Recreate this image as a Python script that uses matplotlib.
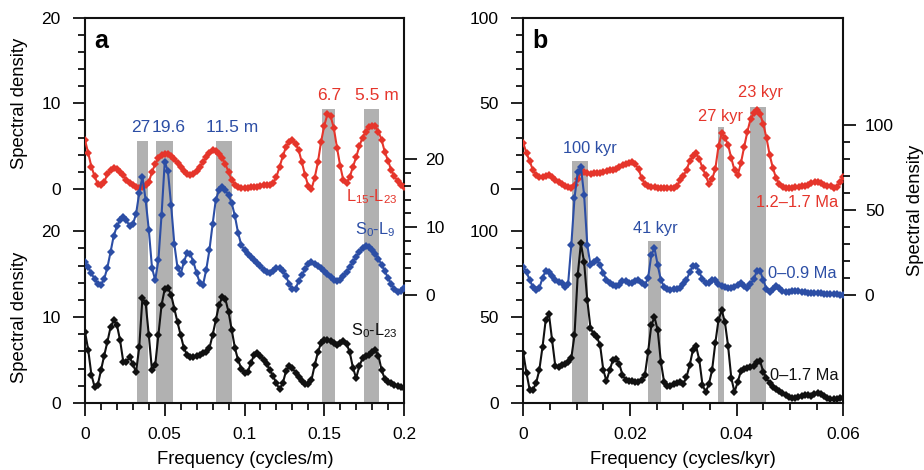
import numpy as np
import matplotlib
matplotlib.use("Agg")
import matplotlib.pyplot as plt
from matplotlib.ticker import FixedLocator, FixedFormatter, NullFormatter

plt.rcParams['font.family'] = ['Liberation Sans', 'DejaVu Sans']
plt.rcParams['mathtext.fontset'] = 'custom'
plt.rcParams['mathtext.rm'] = 'Liberation Sans'
plt.rcParams['mathtext.it'] = 'Liberation Sans:italic'
plt.rcParams['mathtext.default'] = 'regular'

# ---------------- data: loess spectra (panel a, depth domain) ----------------
freq_a = np.linspace(0.0, 0.2, 101)          # cycles/m

red_a = [5.7, 4.2, 2.6, 1.5, 0.6, 0.5, 0.8, 1.7, 2.2, 2.4,
         2.3, 2.0, 1.6, 1.0, 0.7, 0.5, 0.2, 0.1, 0.2, 0.5,
         0.8, 2.0, 2.9, 3.6, 4.0, 4.1, 4.1, 3.8, 3.5, 3.0,
         2.6, 2.1, 1.7, 1.6, 1.7, 2.1, 2.6, 3.1, 3.7, 4.2,
         4.5, 4.4, 4.1, 3.6, 2.9, 2.0, 1.0, 0.5, 0.2, 0.1,
         0.1, 0.1, 0.2, 0.2, 0.2, 0.35, 0.45, 0.5, 0.45, 0.7,
         1.4, 2.6, 3.8, 4.9, 5.5, 5.7, 5.3, 4.5, 3.1, 1.6,
         0.35, 0.0, 1.3, 3.1, 5.5, 7.4, 8.7, 8.5, 7.1, 4.8,
         2.7, 1.0, 0.7, 1.4, 2.6, 3.7, 5.0, 6.0, 6.7, 7.2,
         7.4, 7.3, 6.7, 5.7, 4.3, 3.3, 2.2, 1.5, 0.9, 0.5,
         0.2]

blue_a = [4.85, 4.1, 3.2, 2.35, 1.6, 1.5, 2.35, 4.0, 6.3, 8.7,
          10.1, 11.0, 11.5, 11.0, 10.1, 10.4, 11.9, 15.0, 17.4, 14.0,
          9.6, 4.0, 2.2, 5.1, 11.8, 19.6, 18.2, 13.2, 7.5, 4.0,
          3.1, 4.85, 6.2, 6.0, 4.85, 3.2, 1.8, 1.5, 3.7, 6.6,
          10.4, 14.0, 15.4, 15.9, 15.4, 14.7, 13.5, 11.6, 9.1, 7.35,
          6.6, 6.0, 5.6, 5.1, 4.7, 4.3, 3.7, 3.4, 3.2, 3.5,
          4.0, 4.0, 3.5, 2.8, 1.6, 0.9, 0.9, 2.1, 2.9, 3.8,
          4.6, 4.85, 4.6, 4.3, 4.0, 3.5, 3.1, 2.6, 2.2, 2.1,
          2.2, 2.8, 3.4, 4.1, 4.85, 5.6, 6.3, 6.9, 7.2, 7.1,
          6.6, 6.0, 5.3, 4.4, 3.5, 2.5, 1.6, 0.9, 0.45, 0.6,
          1.0]

black_a = [8.3, 6.2, 3.3, 1.9, 2.1, 3.8, 5.5, 7.1, 8.8, 9.65,
           9.1, 7.3, 4.8, 4.8, 5.35, 4.5, 3.6, 6.5, 12.2, 11.7,
           7.9, 3.8, 4.4, 7.9, 11.4, 13.3, 13.4, 12.6, 11.0, 9.4,
           7.9, 6.4, 5.6, 5.35, 5.35, 5.5, 5.6, 5.8, 5.9, 6.4,
           7.9, 9.65, 11.4, 12.3, 12.1, 10.6, 8.5, 6.4, 5.0, 4.0,
           3.5, 3.6, 4.65, 5.6, 5.8, 5.5, 5.0, 4.5, 3.8, 3.1,
           2.3, 1.6, 2.3, 3.7, 4.3, 4.1, 3.5, 3.0, 2.6, 2.2,
           2.2, 2.7, 4.4, 5.9, 7.0, 7.3, 7.3, 7.2, 7.0, 6.7,
           7.0, 7.2, 6.9, 5.9, 4.1, 2.9, 4.3, 5.2, 5.5, 5.6,
           5.9, 6.2, 5.5, 3.8, 2.8, 2.4, 2.3, 2.1, 2.0, 1.9,
           1.75]

# ---------------- data: spectra in the time domain (panel b) ----------------
freq_b = np.linspace(0.0, 0.06, 101)         # cycles/kyr

red_b = [26.7, 20.9, 16.3, 11.0, 8.1, 7.0, 7.0, 7.8, 8.4, 7.0,
         5.5, 4.1, 2.9, 1.7, 0.9, 0.6, 2.3, 5.8, 9.9, 9.9,
         9.3, 9.0, 9.3, 9.3, 9.6, 9.9, 10.5, 10.8, 11.0, 11.9,
         12.8, 14.0, 14.8, 15.1, 15.7, 14.5, 11.6, 6.4, 2.9, 1.5,
         1.2, 0.9, 0.6, 0.6, 0.6, 0.3, 0.3, 0.3, 1.5, 5.0,
         7.6, 11.0, 16.3, 19.2, 20.8, 17.5, 12.2, 7.9, 2.9, 5.8,
         11.6, 25.0, 32.4, 30.0, 25.6, 18.0, 11.0, 8.1, 15.1, 24.4,
         33.2, 40.7, 44.2, 45.9, 43.6, 37.8, 29.7, 19.8, 12.2, 6.4,
         2.9, 1.2, 0.6, 0.6, 0.6, 0.9, 1.2, 1.5, 2.0, 2.6,
         3.5, 3.8, 4.1, 3.5, 2.6, 2.0, 1.5, 0.6, 1.2, 4.1,
         7.0]

blue_b = [16.6, 13.5, 8.8, 4.7, 2.9, 4.1, 10.0, 14.4, 13.5, 11.2,
          8.8, 7.6, 6.8, 4.7, 6.5, 29.4, 57.0, 72.3, 75.3, 58.8,
          29.4, 17.6, 19.4, 20.6, 17.6, 12.9, 8.8, 6.8, 5.9, 5.3,
          5.9, 8.2, 8.2, 7.1, 7.1, 8.2, 8.8, 7.1, 5.9, 10.0,
          23.5, 27.6, 17.6, 8.8, 4.7, 3.5, 3.2, 3.5, 3.5, 4.1,
          6.5, 8.8, 13.5, 17.1, 17.1, 13.5, 9.4, 7.1, 7.1, 8.8,
          8.8, 6.5, 5.3, 4.7, 4.1, 4.1, 4.7, 5.9, 6.8, 5.3,
          4.1, 6.5, 9.4, 14.1, 14.1, 8.8, 3.5, 1.8, 3.5, 5.0,
          4.1, 2.4, 1.5, 1.8, 2.4, 2.4, 2.1, 1.8, 1.5, 1.2,
          1.2, 1.2, 0.9, 0.9, 0.6, 0.6, 0.6, 0.3, 0.3, 0.0,
          0.0]

black_b = [29.0, 17.5, 7.6, 7.6, 11.6, 19.2, 32.6, 48.3, 52.0, 36.6,
           21.5, 20.9, 22.1, 22.7, 23.8, 26.2, 39.5, 74.4, 93.0, 82.0,
           59.9, 43.6, 40.1, 38.4, 33.7, 19.2, 12.8, 19.2, 25.0, 25.6,
           22.7, 16.3, 13.4, 12.8, 12.8, 12.2, 12.2, 13.4, 16.3, 29.7,
           45.3, 50.0, 42.4, 23.8, 12.2, 9.9, 9.9, 11.0, 11.6, 12.2,
           11.0, 15.1, 22.1, 30.8, 33.1, 25.0, 10.5, 6.4, 11.0, 19.2,
           34.9, 48.3, 54.1, 47.1, 33.1, 14.5, 6.4, 12.2, 18.6, 19.8,
           20.3, 20.9, 21.5, 23.8, 24.4, 18.0, 14.5, 11.6, 9.3, 8.1,
           7.0, 5.8, 4.7, 3.5, 2.9, 3.2, 3.5, 3.8, 4.4, 4.7,
           4.1, 5.2, 5.8, 5.5, 4.1, 2.9, 2.6, 2.6, 2.6, 2.9,
           2.9]

# shaded frequency bands: lower edge, upper edge, top (in top-curve units)
band_lo_a = [0.0324, 0.0445, 0.0821, 0.1486, 0.1751]
band_hi_a = [0.0393, 0.0554, 0.0923, 0.1569, 0.1845]
band_top_a = [5.6, 5.6, 5.6, 9.3, 9.3]

band_lo_b = [0.00919, 0.02332, 0.03645, 0.0425]
band_hi_b = [0.01208, 0.02576, 0.03770, 0.0455]
band_top_b = [16.3, -30.3, 36.2, 47.8]

RED = '#e5352b'
BLUE = '#2c4ea5'
BLACK = '#111111'
GRAY = '#b1b1b1'

W, H = 924, 470
fig = plt.figure(figsize=(W / 100, H / 100), dpi=100)
fig.patch.set_facecolor('white')


def fx(px):
    return px / W


def fy(py):
    return 1 - py / H


TOP, BOT = 17.5, 403.0
MAJ_LEN, MIN_LEN, TW = 9.0, 5.0, 1.3


def style_y(axis_obj, major, minor, labels):
    axis_obj.set_major_locator(FixedLocator(major))
    axis_obj.set_major_formatter(FixedFormatter(labels))
    axis_obj.set_minor_locator(FixedLocator(minor))
    axis_obj.set_minor_formatter(NullFormatter())


def panel(left_px, right_px, freq, red, blue, black, xlim, xmaj, xlab, xmin,
          red_lim, red_ticks, red_minor, red_labels,
          black_lim, blue_lim, blue_ticks, blue_minor, blue_labels,
          lo, hi, top):
    rect = [fx(left_px), fy(BOT), fx(right_px) - fx(left_px), fy(TOP) - fy(BOT)]
    ax = fig.add_axes(rect)
    ax.set_xlim(*xlim)
    ax.set_ylim(*red_lim)
    for s in ax.spines.values():
        s.set_linewidth(1.5)
        s.set_color('#111111')

    # shaded bands
    base = red_lim[0]
    for l, h, t in zip(lo, hi, top):
        ax.bar((l + h) / 2, t - base, width=h - l, bottom=base,
               color=GRAY, edgecolor='none', zorder=1)

    mk = dict(marker='D', markersize=3.6, markeredgewidth=0, linewidth=1.5)
    ax.plot(freq, red, color=RED, zorder=3, **mk)

    axk = ax.twinx()
    axk.set_ylim(*black_lim)
    axk.plot(freq, black, color=BLACK, zorder=3, **mk)

    axb = ax.twinx()
    axb.set_ylim(*blue_lim)
    axb.plot(freq, blue, color=BLUE, zorder=3, **mk)

    for a in (axk, axb):
        for s in a.spines.values():
            s.set_visible(False)
        a.patch.set_visible(False)

    # x axis
    ax.xaxis.set_major_locator(FixedLocator(xmaj))
    ax.xaxis.set_major_formatter(FixedFormatter(xlab))
    ax.xaxis.set_minor_locator(FixedLocator(xmin))
    ax.xaxis.set_ticks_position('bottom')

    # y axes
    ax.yaxis.set_ticks_position('left')
    style_y(ax.yaxis, red_ticks, red_minor, red_labels)
    axk.yaxis.set_ticks_position('left')
    style_y(axk.yaxis, red_ticks, red_minor, red_labels)
    axb.yaxis.set_ticks_position('right')
    style_y(axb.yaxis, blue_ticks, blue_minor, blue_labels)

    for a in (ax, axk, axb):
        a.tick_params(which='major', direction='out', length=MAJ_LEN,
                      width=TW, labelsize=12.5, color='#111111')
        a.tick_params(which='minor', direction='out', length=MIN_LEN,
                      width=TW, color='#111111')
    ax.tick_params(axis='x', which='major', pad=8)
    ax.tick_params(axis='y', which='major', pad=8.5)
    axk.tick_params(axis='y', which='major', pad=8.5)
    axb.tick_params(axis='y', which='major', pad=6.5)
    return ax


# ---------------- panel a ----------------
sa = 20 / (189 - TOP)            # units per pixel, left scales
sb = 10 / 68.0                   # units per pixel, right scale
panel(85, 404, freq_a, red_a, blue_a, black_a,
      (0, 0.2), [0, 0.05, 0.1, 0.15, 0.2], ['0', '0.05', '0.1', '0.15', '0.2'],
      [i * 0.01 for i in range(21)],
      (-(BOT - 189) * sa, 20), [0, 10, 20], [2, 4, 6, 8, 12, 14, 16, 18],
      ['0', '10', '20'],
      (0, 20 + (231 - TOP) * sa),
      (-(BOT - 295) * sb, 20 + (159 - TOP) * sb), [0, 10, 20],
      [2, 4, 6, 8, 12, 14, 16, 18], ['0', '10', '20'],
      band_lo_a, band_hi_a, band_top_a)

# ---------------- panel b ----------------
ta = 100 / (189 - TOP)
tb = 100 / 170.0
panel(523.3, 843.3, freq_b, red_b, blue_b, black_b,
      (0, 0.06), [0, 0.02, 0.04, 0.06], ['0', '0.02', '0.04', '0.06'],
      [i * 0.005 for i in range(13)],
      (-(BOT - 189) * ta, 100), [0, 50, 100],
      [10, 20, 30, 40, 60, 70, 80, 90], ['0', '50', '100'],
      (0, 100 + (231 - TOP) * ta),
      (-(BOT - 295) * tb, 100 + (125 - TOP) * tb), [0, 50, 100],
      [10, 20, 30, 40, 60, 70, 80, 90], ['0', '50', '100'],
      band_lo_b, band_hi_b, band_top_b)

# ---------------- labels ----------------
def t(px, py, s, color='black', size=11.8, **kw):
    fig.text(fx(px), fy(py), s, color=color, fontsize=size,
             ha=kw.pop('ha', 'center'), va=kw.pop('va', 'center'), **kw)


t(101, 41, 'a', size=18, weight='bold')
t(540, 41, 'b', size=18, weight='bold')

t(20, 103, 'Spectral density', size=13.3, rotation=90)
t(20, 317, 'Spectral density', size=13.3, rotation=90)
t(915, 210, 'Spectral density', size=13.3, rotation=90)
t(245, 459, 'Frequency (cycles/m)', size=13.3)
t(683, 459, 'Frequency (cycles/kyr)', size=13.3)

# panel a annotations
t(141, 127, '27', BLUE, size=12.5)
t(168.5, 127, '19.6', BLUE, size=12.5)
t(232, 127, '11.5 m', BLUE, size=12.5)
t(329, 96, '6.7', RED, size=12.5)
t(377, 96, '5.5 m', RED, size=12.5)
t(397, 197, r'L$_{15}$-L$_{23}$', RED, ha='right')
t(395, 230, r'S$_{0}$-L$_{9}$', BLUE, ha='right')
t(398, 331, r'S$_{0}$-L$_{23}$', BLACK, ha='right')

# panel b annotations
t(590, 148, '100 kyr', BLUE)
t(655, 229, '41 kyr', BLUE)
t(721, 116, '27 kyr', RED)
t(760, 92, '23 kyr', RED)
t(838, 202, '1.2\u20131.7 Ma', RED, ha='right')
t(836, 273, '0\u20130.9 Ma', BLUE, ha='right')
t(838, 375, '0\u20131.7 Ma', BLACK, ha='right')

fig.savefig('out.png', dpi=100, facecolor='white')
